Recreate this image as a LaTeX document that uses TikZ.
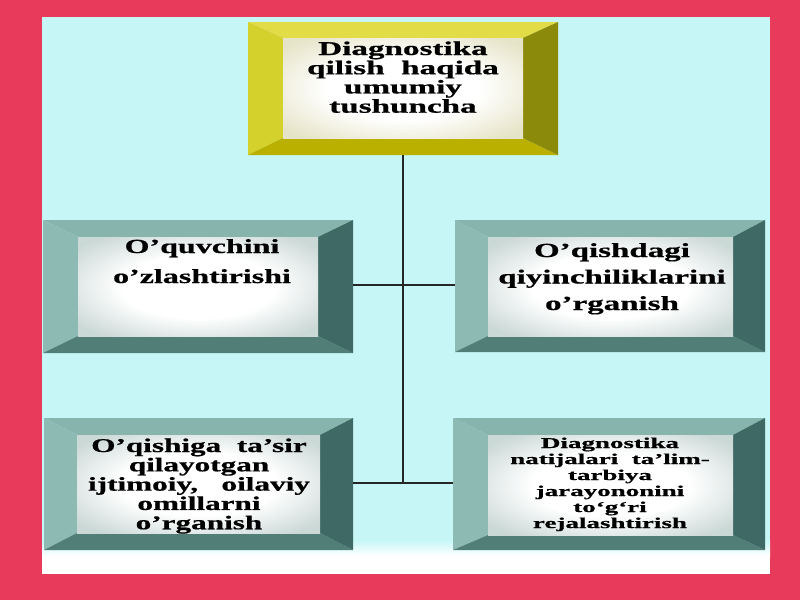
\documentclass[tikz,border=0pt]{standalone}
\usepackage{fontspec}
\setmainfont{Liberation Serif}[BoldFeatures={FakeBold=0.6}]
\usepackage{graphicx}
\definecolor{frame}{RGB}{232,58,90}
\definecolor{panel}{RGB}{198,246,246}
\definecolor{yT}{RGB}{226,220,70}
\definecolor{yL}{RGB}{212,208,44}
\definecolor{yB}{RGB}{186,176,0}
\definecolor{yR}{RGB}{140,138,10}
\definecolor{tT}{RGB}{136,180,174}
\definecolor{tL}{RGB}{142,186,180}
\definecolor{tB}{RGB}{82,126,120}
\definecolor{tR}{RGB}{62,105,100}
\definecolor{yIn}{RGB}{230,228,200}
\definecolor{tIn}{RGB}{202,216,214}
\pgfdeclareradialshading{yInner}{\pgfpoint{0bp}{0bp}}{color(0bp)=(white); color(16bp)=(white); color(32bp)=(yIn); color(50bp)=(yIn)}
\pgfdeclareradialshading{tInner}{\pgfpoint{0bp}{0bp}}{color(0bp)=(white); color(16bp)=(white); color(32bp)=(tIn); color(50bp)=(tIn)}
\tikzset{
  boxnode/.style={inner sep=0pt, outer sep=0pt},
  txt/.style={inner sep=0pt, anchor=base, text=black},
  link/.style={draw=black!85, line width=1.1pt},
}
% #1 colour prefix (y/t), #2..#5 outer x1,y1,x2,y2, #6..#9 inner x1,y1,x2,y2
\newcommand\bev[9]{%
  \fill[#1T] (#2,#3) -- (#4,#3) -- (#8,#7) -- (#6,#7) -- cycle;
  \fill[#1L] (#2,#3) -- (#6,#7) -- (#6,#9) -- (#2,#5) -- cycle;
  \fill[#1B] (#2,#5) -- (#6,#9) -- (#8,#9) -- (#4,#5) -- cycle;
  \fill[#1R] (#4,#3) -- (#4,#5) -- (#8,#9) -- (#8,#7) -- cycle;
  \shade[shading=#1Inner] (#6,#7) rectangle (#8,#9);
}
\newcommand\wt[4]{\scalebox{#1}[1]{\fontsize{#2}{#3}\selectfont\bfseries\begin{tabular}[t]{@{}c@{}}#4\end{tabular}}}
\begin{document}
\begin{tikzpicture}[x=1pt,y=-1pt]
\useasboundingbox (0,0) rectangle (800,600);
\fill[frame] (0,0) rectangle (800,600);
\fill[panel] (42,17) rectangle (770,574);
\shade[top color=panel, bottom color=white] (42,540) rectangle (770,556);
\fill[white] (42,556) rectangle (770,574);

% boxes
\bev{y}{248}{22}{558}{155}{283}{38}{523}{138}
\bev{t}{43}{220}{353}{353}{78}{237}{318}{336}
\bev{t}{455}{220}{765}{352}{488}{237}{733}{336}
\bev{t}{44}{418}{353}{550}{77}{435}{320}{533}
\bev{t}{453}{418}{765}{550}{488}{435}{733}{535}

\node[boxnode, minimum width=310pt, minimum height=133pt] (top) at (403,88.5) {};
\node[boxnode, minimum width=310pt, minimum height=133pt] (ml) at (198,286.5) {};
\node[boxnode, minimum width=310pt, minimum height=132pt] (mr) at (610,286) {};
\node[boxnode, minimum width=309pt, minimum height=132pt] (bl) at (198.5,484) {};
\node[boxnode, minimum width=312pt, minimum height=132pt] (br) at (609,484) {};

% texts
\node[txt] (topt) at (403,55) {\wt{1.7}{19.5}{19}{Diagnostika\\qilish\ \ haqida\\umumiy\\tushuncha}};
\node[txt] (mlt) at (202,253) {\wt{1.6}{20}{30}{O’quvchini\\o’zlashtirishi}};
\node[txt] (mrt) at (612,257) {\wt{1.65}{20}{26.5}{O’qishdagi\\qiyinchiliklarini\\o’rganish}};
\node[txt] (blt) at (199,452) {\wt{1.6}{19.5}{19.3}{O’qishiga\ \ ta’sir\\qilayotgan\\ijtimoiy,\ \ \ oilaviy\\omillarni\\o’rganish}};
\node[txt] (brt) at (610,448) {\wt{1.8}{15}{16}{Diagnostika\\natijalari\ \ ta’lim-\\tarbiya\\jarayononini\\to‘g‘ri\\rejalashtirish}};

% connectors
\coordinate (j1) at (403,285);
\coordinate (j2) at (403,483);
\draw[link] (top.south) -- (j2);
\draw[link] (ml.east |- j1) -- (mr.west |- j1);
\draw[link] (bl.east |- j2) -- (br.west |- j2);
\end{tikzpicture}
\end{document}
